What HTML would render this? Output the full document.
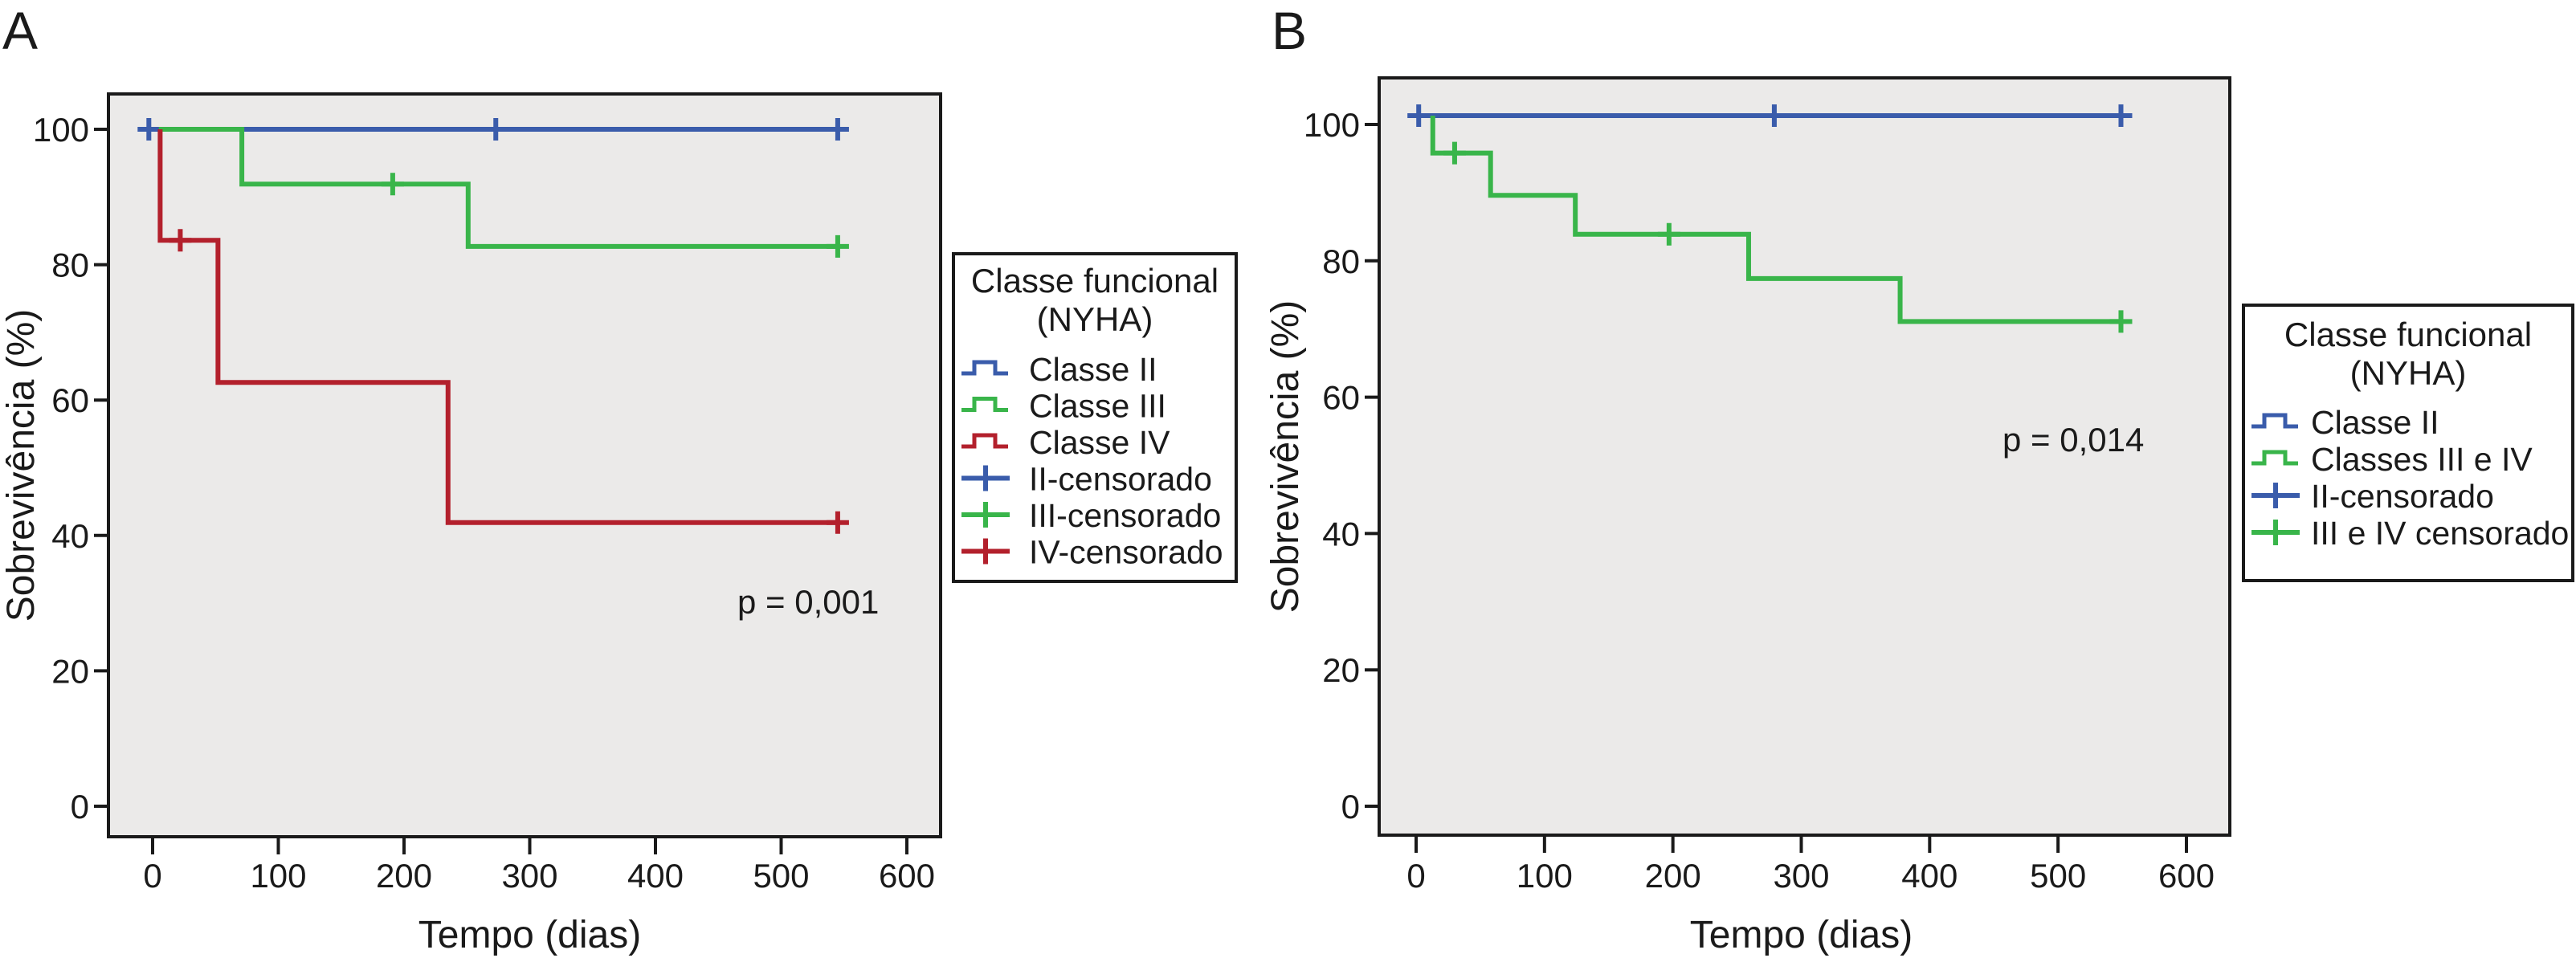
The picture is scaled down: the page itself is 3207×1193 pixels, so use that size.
<!DOCTYPE html>
<html><head><meta charset="utf-8"><style>
html,body{margin:0;padding:0;background:#fff;}
svg{display:block;font-family:"Liberation Sans",Arial,sans-serif;}
</style></head><body>
<svg id="fig" width="3207" height="1193" viewBox="0 0 3207 1193" xmlns="http://www.w3.org/2000/svg">
<text x="3" y="61" font-size="66" fill="#1a1a1a">A</text>
<text x="1583" y="61" font-size="66" fill="#1a1a1a">B</text>
<g id="panelA"></g>
<g id="panelB"></g>
</svg>
<script>
// ---- axes ----
const xTicks = [0,100,200,300,400,500,600];
const yTicks = [0,20,40,60,80,100];
// ---- Panel A data (start day, start %, drop days, % after drop, end day, censor days) ----
const aClassIIStart = [-3, 100];
const aClassIIDropX = [];
const aClassIIDropY = [];
const aClassIIEnd = 545;
const aClassIIcens = [-3, 273, 545];
const aClassIIIStart = [5, 100];
const aClassIIIDropX = [71, 251];
const aClassIIIDropY = [91.9, 82.7];
const aClassIIIEnd = 545;
const aClassIIIcens = [191, 545];
const aClassIVStart = [6, 100];
const aClassIVDropX = [6, 52, 235];
const aClassIVDropY = [83.6, 62.6, 41.9];
const aClassIVEnd = 545;
const aClassIVcens = [22, 545];
// ---- Panel B data ----
const bClassIIStart = [2, 101.3];
const bClassIIDropX = [];
const bClassIIDropY = [];
const bClassIIEnd = 549;
const bClassIIcens = [2, 279, 549];
const bClassIIIIVStart = [13, 101.3];
const bClassIIIIVDropX = [13, 58, 124, 259, 377];
const bClassIIIIVDropY = [95.8, 89.6, 83.9, 77.4, 71.1];
const bClassIIIIVEnd = 549;
const bClassIIIIVcens = [30, 197, 549];

const NS = "http://www.w3.org/2000/svg";
const BLUE="#3a5cab", GREEN="#39b54a", RED="#b3202c";
function mk(tag, attrs, parent){const e=document.createElementNS(NS,tag);for(const k in attrs)e.setAttribute(k,attrs[k]);parent.appendChild(e);return e;}

function drawPanel(g, cfg){
  const sx=v=>cfg.x0+v*(cfg.x600-cfg.x0)/600;
  const sy=v=>cfg.y0+v*(cfg.y100-cfg.y0)/100;
  const bg=mk('rect',{x:cfg.left,y:cfg.top,width:cfg.right-cfg.left,height:cfg.bottom-cfg.top,fill:'#ebeae9',stroke:'#1a1a1a','stroke-width':4},g);
  
  
  yTicks.forEach(t=>{
    const l=mk('line',{x1:cfg.left-18,x2:cfg.left,y1:sy(t),y2:sy(t),stroke:'#1a1a1a','stroke-width':4},g);
    
    
    const tx=mk('text',{x:cfg.left-24,y:sy(t)+15,'font-size':42,'text-anchor':'end',fill:'#1a1a1a'},g);
    
    
    tx.textContent=t;
  });
  xTicks.forEach(t=>{
    const l=mk('line',{x1:sx(t),x2:sx(t),y1:cfg.bottom,y2:cfg.bottom+22,stroke:'#1a1a1a','stroke-width':4},g);
    
    
    const tx=mk('text',{x:sx(t),y:1105,'font-size':42,'text-anchor':'middle',fill:'#1a1a1a'},g);
    
    
    tx.textContent=t;
  });
  const xt=mk('text',{x:(sx(0)+sx(600))/2,y:1180,'font-size':48,'text-anchor':'middle',fill:'#1a1a1a'},g);
  
  
  xt.textContent='Tempo (dias)';
  const yt=mk('text',{x:0,y:0,'font-size':48,'text-anchor':'middle',fill:'#1a1a1a',transform:`translate(${cfg.ytitleX},${(cfg.top+cfg.bottom)/2}) rotate(-90)`},g);
  
  
  yt.textContent='Sobrevivência (%)';
  cfg.series.forEach(s=>{
    let d=`M${sx(s.start[0])},${sy(s.start[1])}`;
    for(let i=0;i<s.dx.length;i++){d+=` H${sx(s.dx[i])} V${sy(s.dy[i])}`;}
    d+=` H${sx(s.end)}`;
    const p=mk('path',{d:d,fill:'none',stroke:s.c,'stroke-width':6},g);
    
    
    s.cens.forEach(cx=>{
      let yv=s.start[1];
      for(let i=0;i<s.dx.length;i++){ if(cx>=s.dx[i]) yv=s.dy[i]; }
      const X=sx(cx),Y=sy(yv);
      const m=mk('path',{d:`M${X-14},${Y} H${X+14} M${X},${Y-14} V${Y+14}`,stroke:s.c,'stroke-width':6,fill:'none'},g);
      
      
    });
  });
  const pv=mk('text',{x:cfg.pX,y:cfg.pY,'font-size':42,fill:'#1a1a1a'},g);
  
  
  pv.textContent=cfg.pText;
  const L=cfg.leg;
  const lb=mk('rect',{x:L.x,y:L.y,width:L.w,height:L.h,fill:'#fff',stroke:'#1a1a1a','stroke-width':4},g);
  
  
  const cx=L.x+L.w/2;
  ['Classe funcional','(NYHA)'].forEach((t,i)=>{
    const tt=mk('text',{x:cx,y:L.t1+i*48,'font-size':42,'text-anchor':'middle',fill:'#1a1a1a'},g);
    
    
    tt.textContent=t;
  });
  L.entries.forEach((e,i)=>{
    const y=L.e1+i*L.step;
    const sxl=L.x+10;
    let d;
    if(e.type==='step') d=`M${sxl},${y+6} H${sxl+16} V${y-8} H${sxl+42} V${y+6} H${sxl+58}`;
    else d=`M${sxl},${y} H${sxl+60} M${sxl+30},${y-16} V${y+16}`;
    const sym=mk('path',{d:d,fill:'none',stroke:e.c,'stroke-width':e.type==='step'?5:6},g);
    
    
    const tx=mk('text',{x:L.x+L.tx,y:y+15,'font-size':41,fill:'#1a1a1a'},g);
    
    
    tx.textContent=e.t;
  });
}

drawPanel(document.getElementById('panelA'),{
  left:135,right:1171,top:117,bottom:1042,
  x0:190,x600:1129,y0:1004,y100:161,ytitleX:42,
  pX:918,pY:764,pText:'p = 0,001',
  series:[
    {name:'classe-ii',c:BLUE,start:aClassIIStart,dx:aClassIIDropX,dy:aClassIIDropY,end:aClassIIEnd,cens:aClassIIcens},
    {name:'classe-iii',c:GREEN,start:aClassIIIStart,dx:aClassIIIDropX,dy:aClassIIIDropY,end:aClassIIIEnd,cens:aClassIIIcens},
    {name:'classe-iv',c:RED,start:aClassIVStart,dx:aClassIVDropX,dy:aClassIVDropY,end:aClassIVEnd,cens:aClassIVcens}
  ],
  leg:{x:1187,y:316,w:352,h:408,t1:364,e1:459,step:45.5,tx:94,entries:[
    {type:'step',c:BLUE,t:'Classe II'},
    {type:'step',c:GREEN,t:'Classe III'},
    {type:'step',c:RED,t:'Classe IV'},
    {type:'cross',c:BLUE,t:'II-censorado'},
    {type:'cross',c:GREEN,t:'III-censorado'},
    {type:'cross',c:RED,t:'IV-censorado'}
  ]}
});
drawPanel(document.getElementById('panelB'),{
  left:1717,right:2776,top:97,bottom:1040,
  x0:1763,x600:2722,y0:1004,y100:155,ytitleX:1616,
  pX:2493,pY:562,pText:'p = 0,014',
  series:[
    {name:'classe-ii',c:BLUE,start:bClassIIStart,dx:bClassIIDropX,dy:bClassIIDropY,end:bClassIIEnd,cens:bClassIIcens},
    {name:'classes-iii-iv',c:GREEN,start:bClassIIIIVStart,dx:bClassIIIIVDropX,dy:bClassIIIIVDropY,end:bClassIIIIVEnd,cens:bClassIIIIVcens}
  ],
  leg:{x:2793,y:380,w:410,h:343,t1:431,e1:525,step:46,tx:84,entries:[
    {type:'step',c:BLUE,t:'Classe II'},
    {type:'step',c:GREEN,t:'Classes III e IV'},
    {type:'cross',c:BLUE,t:'II-censorado'},
    {type:'cross',c:GREEN,t:'III e IV censorado'}
  ]}
});
</script>
</body></html>
